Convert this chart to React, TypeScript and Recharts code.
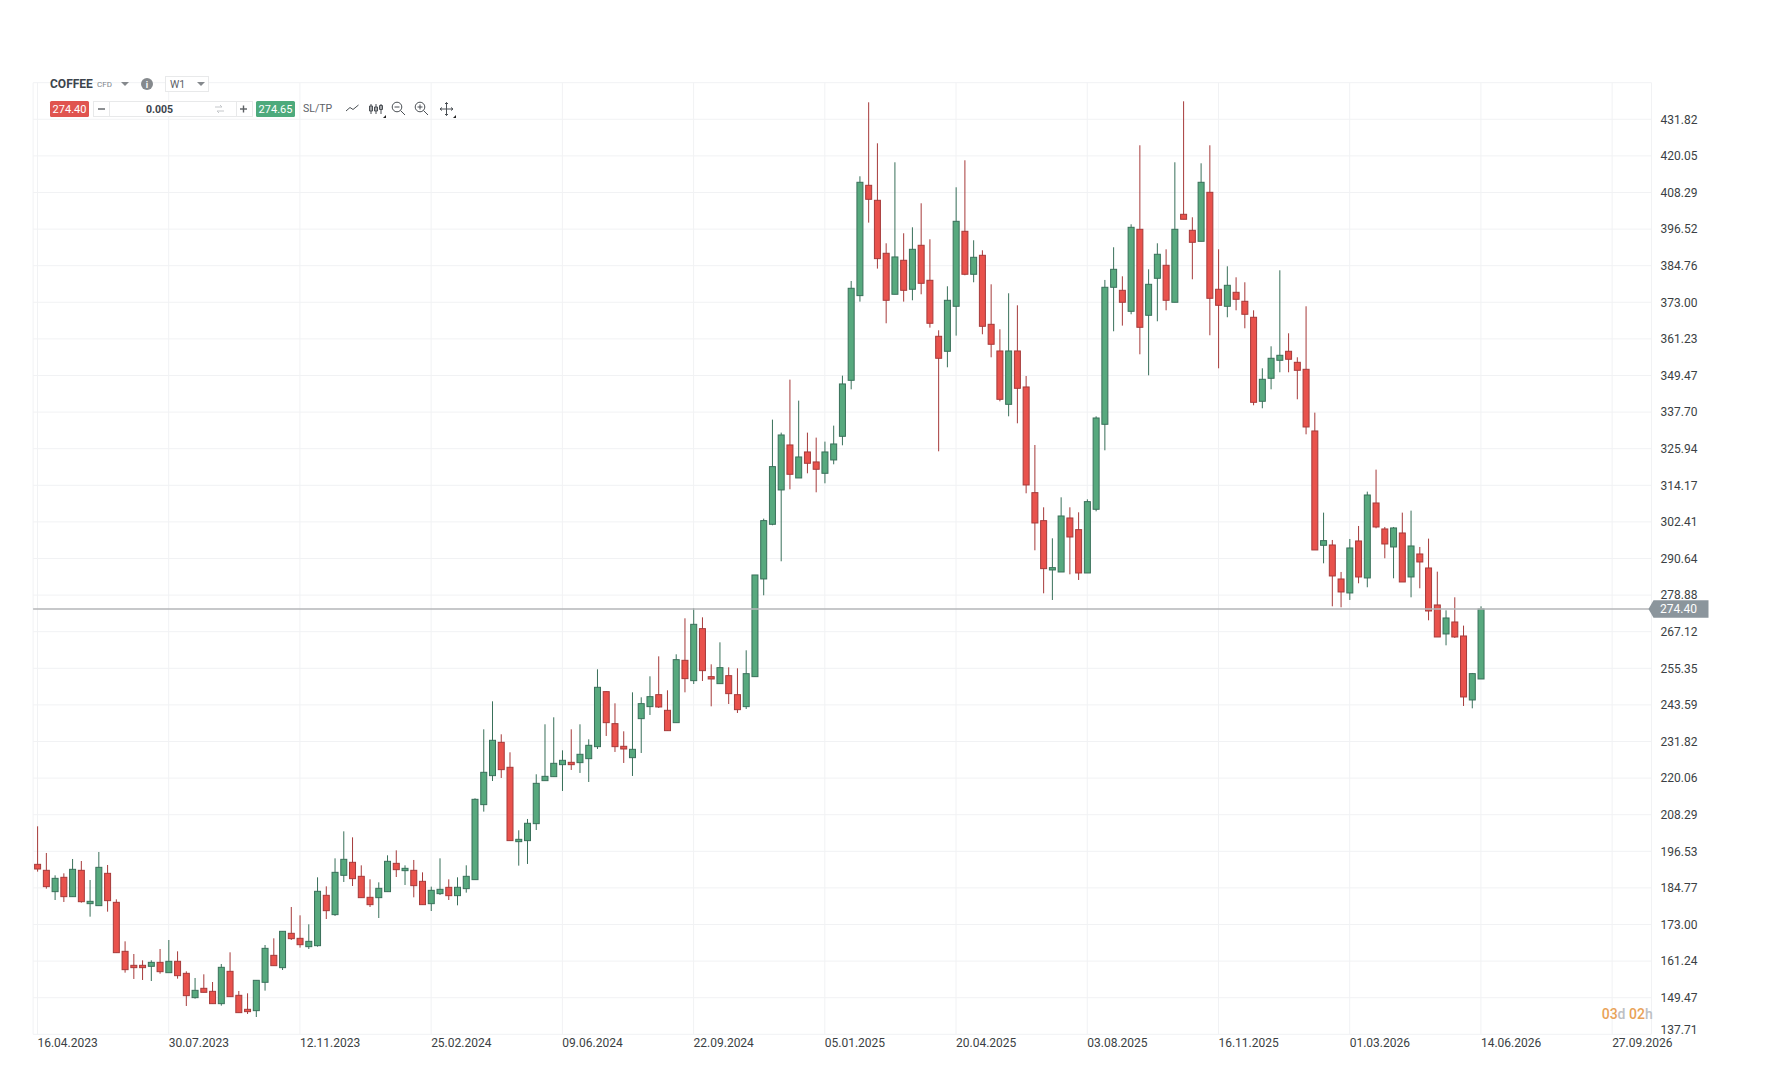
import { ComposedChart, Bar, XAxis, YAxis, CartesianGrid, ReferenceLine } from 'recharts';

// Weekly candles, oldest first
const opens = [
  192.34, 190.42, 183.56, 188.17, 181.95, 190.42, 179.70, 179.06, 189.45, 180.13,
  164.38, 159.88, 159.88, 159.56, 160.84, 157.52, 161.17, 157.31, 149.49, 152.49,
  151.52, 147.56, 157.95, 150.24, 145.74, 145.31, 154.42, 163.09, 159.13, 170.17,
  168.56, 165.88, 166.20, 182.38, 176.17, 188.81, 192.99, 188.49, 181.74, 181.63,
  183.56, 192.66, 190.31, 190.42, 186.88, 179.70, 182.92, 184.95, 182.28, 184.53,
  187.42, 211.53, 220.85, 231.56, 223.53, 199.63, 199.96, 205.42, 219.24, 220.53,
  224.38, 225.13, 225.03, 226.31, 230.17, 247.85, 237.56, 230.28, 226.63, 239.17,
  243.03, 246.88, 241.85, 237.88, 257.92, 251.38, 268.10, 252.67, 250.42, 252.99,
  246.88, 243.03, 252.67, 284.07, 301.64, 312.68, 327.14, 316.53, 324.89, 321.68,
  318.03, 322.32, 329.92, 347.92, 375.14, 410.60, 405.78, 388.75, 375.57, 386.50,
  377.18, 391.32, 380.07, 362.07, 357.25, 371.71, 395.82, 382.00, 388.10, 365.92,
  357.35, 340.20, 357.35, 345.78, 311.81, 302.81, 286.96, 286.31, 303.67, 299.92,
  285.99, 306.46, 333.78, 377.82, 376.85, 370.10, 396.46, 368.82, 380.71, 384.89,
  373.00, 401.28, 396.14, 392.60, 408.35, 377.18, 371.71, 376.21, 373.32, 368.18,
  341.18, 348.57, 354.35, 357.25, 353.71, 351.46, 331.64, 294.89, 294.99, 284.06,
  279.57, 296.28, 284.39, 308.49, 300.14, 294.35, 298.85, 284.71, 292.10, 287.60,
  275.71, 266.39, 270.24, 265.74, 245.17, 251.92,
];

const closes = [
  190.84, 185.17, 187.84, 181.95, 190.74, 180.34, 180.45, 191.38, 180.67, 163.95,
  158.49, 159.13, 159.13, 160.84, 157.84, 161.17, 156.56, 150.13, 151.84, 151.20,
  147.56, 159.24, 149.81, 144.67, 144.99, 155.06, 165.34, 159.77, 170.81, 168.45,
  166.52, 167.59, 183.67, 177.45, 189.77, 193.95, 187.74, 181.63, 179.38, 184.63,
  193.31, 190.63, 191.06, 185.49, 179.38, 183.99, 184.31, 182.27, 184.96, 188.49,
  213.24, 221.92, 232.21, 222.78, 199.96, 200.38, 205.53, 218.38, 220.63, 224.81,
  225.78, 224.38, 227.71, 230.60, 249.24, 237.88, 230.17, 229.42, 229.31, 243.99,
  246.24, 242.92, 235.31, 258.13, 252.03, 269.49, 254.60, 251.92, 255.56, 247.21,
  242.06, 253.63, 285.35, 302.82, 320.18, 330.35, 317.71, 323.28, 321.25, 319.32,
  324.89, 327.46, 346.75, 377.50, 411.57, 406.10, 387.03, 373.64, 387.57, 376.85,
  390.03, 379.10, 366.25, 355.00, 373.64, 399.03, 382.00, 387.46, 365.28, 359.50,
  341.81, 357.35, 345.35, 314.28, 302.06, 287.38, 287.71, 304.31, 297.56, 285.99,
  308.92, 335.81, 377.82, 383.60, 373.00, 397.10, 364.96, 378.78, 388.43, 373.64,
  396.46, 399.68, 392.28, 411.57, 374.28, 372.03, 378.46, 373.96, 369.14, 340.85,
  348.25, 355.00, 355.96, 354.68, 351.14, 332.92, 293.39, 296.39, 285.03, 279.89,
  294.03, 284.71, 311.06, 300.78, 295.31, 300.46, 283.10, 294.67, 289.53, 273.78,
  265.42, 271.53, 265.42, 246.14, 253.64, 274.40,
];

const highs = [
  204.56, 195.99, 188.81, 189.45, 194.06, 193.41, 187.31, 196.31, 192.13, 181.09,
  167.59, 163.52, 161.49, 161.49, 165.13, 168.02, 164.38, 157.95, 155.81, 156.99,
  154.52, 160.31, 164.06, 151.63, 150.88, 155.06, 166.41, 168.56, 170.81, 178.63,
  175.95, 173.06, 188.17, 185.27, 194.27, 202.95, 201.02, 192.02, 187.52, 186.56,
  195.24, 196.84, 192.02, 193.74, 189.77, 185.17, 194.27, 187.52, 188.17, 192.03,
  213.56, 235.74, 244.74, 234.13, 228.35, 203.28, 206.92, 221.28, 237.35, 239.60,
  228.99, 235.74, 237.35, 232.53, 255.03, 247.96, 244.10, 235.10, 247.63, 246.03,
  252.78, 259.20, 248.28, 259.85, 271.42, 274.63, 271.74, 256.63, 263.70, 255.67,
  255.35, 261.13, 285.35, 303.46, 335.28, 331.10, 348.14, 341.39, 331.10, 329.50,
  328.21, 333.35, 349.42, 379.85, 413.50, 437.28, 424.10, 391.96, 418.00, 395.18,
  397.10, 404.82, 393.25, 364.00, 378.14, 409.96, 418.64, 392.93, 389.71, 378.78,
  364.32, 375.89, 372.03, 349.31, 327.13, 307.10, 297.13, 310.31, 307.10, 305.49,
  309.67, 336.35, 380.18, 390.68, 381.35, 398.07, 423.46, 383.60, 391.96, 390.03,
  418.00, 437.60, 400.32, 417.67, 423.46, 390.03, 384.57, 381.03, 379.43, 370.42,
  351.78, 358.85, 383.28, 363.03, 355.32, 371.71, 337.53, 305.39, 296.60, 286.32,
  296.92, 301.10, 312.14, 319.21, 300.78, 300.78, 305.39, 306.03, 294.35, 297.03,
  286.42, 273.99, 278.17, 269.07, 253.85, 275.28,
];

const lows = [
  189.99, 184.52, 180.88, 180.24, 181.95, 180.02, 175.52, 179.06, 177.13, 163.95,
  157.52, 155.49, 155.17, 154.84, 157.20, 157.52, 155.59, 146.81, 149.17, 151.20,
  147.56, 146.92, 149.81, 144.67, 144.24, 143.27, 151.74, 159.77, 158.38, 168.02,
  165.56, 165.13, 165.88, 174.77, 175.74, 186.67, 185.38, 181.63, 178.63, 175.09,
  183.56, 188.27, 185.70, 181.74, 179.38, 177.34, 182.49, 180.88, 179.17, 183.24,
  187.42, 209.28, 219.13, 220.10, 199.96, 191.92, 192.46, 203.38, 219.24, 220.53,
  215.92, 222.67, 221.71, 218.81, 229.42, 233.60, 228.46, 224.92, 220.74, 228.13,
  240.35, 242.60, 235.31, 237.88, 247.63, 250.31, 251.28, 243.13, 250.42, 243.88,
  240.99, 242.28, 252.67, 278.82, 301.32, 289.75, 312.89, 316.53, 318.03, 311.92,
  314.82, 320.92, 327.03, 345.03, 373.21, 398.60, 383.82, 366.25, 375.57, 373.21,
  373.64, 375.57, 364.85, 325.10, 352.10, 362.28, 381.68, 379.43, 362.71, 355.32,
  341.17, 336.35, 334.10, 311.60, 293.28, 279.46, 277.31, 286.31, 285.56, 283.74,
  285.99, 305.81, 325.42, 363.68, 365.50, 369.14, 356.28, 349.53, 366.89, 370.42,
  373.00, 399.68, 380.39, 392.60, 362.39, 351.78, 368.18, 370.42, 364.64, 339.89,
  338.93, 345.03, 350.50, 350.50, 341.82, 330.56, 293.39, 289.10, 275.28, 274.96,
  277.32, 282.67, 281.39, 300.35, 290.71, 284.28, 283.10, 278.17, 281.07, 270.78,
  265.42, 262.74, 265.10, 243.24, 242.49, 251.92,
];

const priceTicks = [
  137.71, 149.47, 161.24, 173.0, 184.77, 196.53, 208.29, 220.06, 231.82, 243.59, 255.35, 267.12, 278.88,
  290.64, 302.41, 314.17, 325.94, 337.7, 349.47, 361.23, 373.0, 384.76, 396.52, 408.29, 420.05, 431.82,
];
const dateLabels = [
  '16.04.2023', '30.07.2023', '12.11.2023', '25.02.2024', '09.06.2024', '22.09.2024', '05.01.2025',
  '20.04.2025', '03.08.2025', '16.11.2025', '01.03.2026', '14.06.2026', '27.09.2026',
];
const lastBid = 274.4;
const lastAsk = 274.65;

const WEEKS_SHOWN = 185;
const WEEKS_PER_LABEL = 15;

// empty weeks after the last candle keep the right side of the chart free
const chartData = Array.from({ length: WEEKS_SHOWN }, (_, week) =>
  week < opens.length
    ? { week, open: opens[week], close: closes[week], high: highs[week], low: lows[week], range: [lows[week], highs[week]] }
    : { week },
);
const dateTicks = dateLabels.map((_, i) => i * WEEKS_PER_LABEL);

const GREEN = '#57a97e';
const GREEN_DARK = '#39705a';
const RED = '#e9524c';
const RED_DARK = '#a63a3a';
const FONT = 'Roboto, sans-serif';

// Bar hands us the pixel box of low..high, the body is placed inside it
function Candle(props: any) {
  const { x, y, width, height, payload } = props;
  if (!payload || !payload.range) return null;
  const { open, close, high, low } = payload;
  const up = close >= open;
  const perUnit = height / (high - low);
  const bodyTop = y + (high - Math.max(open, close)) * perUnit;
  const bodyHeight = Math.max(Math.abs(open - close) * perUnit, 1);
  const mid = x + width / 2;
  return (
    <g>
      <line x1={mid} x2={mid} y1={y} y2={y + height} stroke={up ? GREEN_DARK : RED_DARK} strokeWidth={1} />
      <rect
        x={x + 0.5}
        y={bodyTop}
        width={width - 1}
        height={bodyHeight}
        fill={up ? GREEN : RED}
        stroke={up ? GREEN_DARK : RED_DARK}
        strokeWidth={1}
      />
    </g>
  );
}

function PriceTick({ x, y, payload, index }: any) {
  return (
    <text x={x} y={index === 0 ? y - 4.5 : y} dy="0.36em" fontSize={12} fontFamily={FONT} fill="#3b3f44" textAnchor="start">
      {payload.value.toFixed(2)}
    </text>
  );
}

function DateTick({ x, y, payload }: any) {
  return (
    <text x={x} y={y + 12.7} fontSize={12} fontFamily={FONT} fill="#3b3f44" textAnchor="start">
      {dateLabels[payload.value / WEEKS_PER_LABEL]}
    </text>
  );
}

function PriceTag({ viewBox }: any) {
  const y = viewBox.y;
  const right = viewBox.x + viewBox.width;
  const points = `${right - 3},${y} ${right + 2},${y - 8.7} ${right + 57},${y - 8.7} ${right + 57},${y + 8.7} ${right + 2},${y + 8.7}`;
  return (
    <g>
      <polygon points={points} fill="#8b959c" />
      <text x={right + 8.5} y={y + 4.3} fontSize={12} fontFamily={FONT} fill="#ffffff">
        {lastBid.toFixed(2)}
      </text>
    </g>
  );
}

function Toolbar() {
  const grey = '#5c6167';
  return (
    <svg width={470} height={130} style={{ position: 'absolute', left: 0, top: 0 }}>
      <g fontFamily={FONT}>
        <text x={50} y={88} fontSize={12} fontWeight={700} fill="#3c444c">COFFEE</text>
        <text x={97} y={87} fontSize={8} fill="#80868c">CFD</text>
        <polygon points="121,82 129,82 125,86" fill="#85898d" />
        <circle cx={147} cy={84} r={6} fill="#85898d" />
        <text x={147} y={87.5} fontSize={9} fontWeight={700} fill="#ffffff" textAnchor="middle">i</text>

        <rect x={165.5} y={76.5} width={43} height={15} fill="#ffffff" stroke="#e8e9ea" />
        <text x={170} y={88} fontSize={10.5} fill={grey}>W1</text>
        <polygon points="197,82 205,82 201,86" fill="#85898d" />

        <rect x={50} y={101} width={39} height={16} rx={1.5} fill="#e0544f" />
        <text x={69.5} y={113} fontSize={11} fill="#ffffff" textAnchor="middle">{lastBid.toFixed(2)}</text>

        <rect x={93.5} y={101.5} width={159} height={15} fill="#ffffff" stroke="#e8e9ea" />
        <line x1={109.5} x2={109.5} y1={102} y2={116} stroke="#e8e9ea" />
        <line x1={236.5} x2={236.5} y1={102} y2={116} stroke="#e8e9ea" />
        <line x1={98} x2={105} y1={109} y2={109} stroke="#5b5f63" strokeWidth={1.4} />
        <line x1={240} x2={247} y1={109} y2={109} stroke="#5b5f63" strokeWidth={1.4} />
        <line x1={243.5} x2={243.5} y1={105.5} y2={112.5} stroke="#5b5f63" strokeWidth={1.4} />
        <text x={159.5} y={113} fontSize={10.5} fontWeight={700} fill="#3c444c" textAnchor="middle">0.005</text>
        <path d="M215 107 h7 l-2 -2 M224 111 h-7 l2 2" fill="none" stroke="#c4c7ca" strokeWidth={1} />

        <rect x={256} y={101} width={39} height={16} rx={1.5} fill="#4daa7c" />
        <text x={275.5} y={113} fontSize={11} fill="#ffffff" textAnchor="middle">{lastAsk.toFixed(2)}</text>
        <text x={303} y={112} fontSize={10.5} fill={grey}>SL/TP</text>

        <g fill="none" stroke="#4a4f54" strokeWidth={1}>
          <path d="M346 111 L350 107.5 L353 109.5 L358.5 105" />
          <path d="M371 104 V114 M369.5 106 h3 v5 h-3 z M376 104 V114 M374.5 107 h3 v4 h-3 z M381 104 V114 M379.5 105.5 h3 v4 h-3 z" />
          <circle cx={397} cy={107} r={4.8} />
          <path d="M400.5 110.5 L405 115 M394.5 107 h5" />
          <circle cx={420} cy={107} r={4.8} />
          <path d="M423.5 110.5 L428 115 M417.5 107 h5 M420 104.5 v5" />
          <path d="M440 109 h13 M446.5 102.5 v13 M442 107.5 l-2 1.5 l2 1.5 M451 107.5 l2 1.5 l-2 1.5 M445 104 l1.5 -1.5 l1.5 1.5 M445 114 l1.5 1.5 l1.5 -1.5" />
        </g>
        <polygon points="386,115 383,118 386,118" fill="#222222" />
        <polygon points="456,115 453,118 456,118" fill="#222222" />
      </g>
    </svg>
  );
}

export default function App() {
  return (
    <div style={{ position: 'absolute', left: 0, top: 0, width: 1774, height: 1092, background: '#ffffff', overflow: 'hidden' }}>
      <ComposedChart
        width={1774}
        height={1092}
        data={chartData}
        margin={{ top: 82.7, right: 62.5, left: 33.1, bottom: 27.7 }}
      >
        <CartesianGrid stroke="#f1f2f4" strokeWidth={1} />
        <XAxis
          dataKey="week"
          type="category"
          ticks={dateTicks}
          interval={0}
          height={30}
          tick={<DateTick />}
          tickLine={false}
          axisLine={false}
          tickSize={0}
          tickMargin={0}
        />
        <YAxis
          orientation="right"
          type="number"
          domain={[137.71, 443.58]}
          ticks={priceTicks}
          interval={0}
          width={60}
          tick={<PriceTick />}
          tickLine={false}
          axisLine={false}
          tickSize={0}
          tickMargin={9}
          allowDataOverflow
        />
        <Bar dataKey="range" barSize={7} shape={<Candle />} isAnimationActive={false} />
        <ReferenceLine y={lastBid} stroke="#b4b6b8" strokeWidth={1.5} label={<PriceTag />} />
      </ComposedChart>
      <Toolbar />
      <div style={{ position: 'absolute', left: 1601.7, top: 1006, fontFamily: FONT, fontSize: 14, fontWeight: 500, color: '#bcc0c4', whiteSpace: 'pre' }}>
        <span style={{ color: '#e9a257' }}>03</span>d <span style={{ color: '#e9a257' }}>02</span>h
      </div>
    </div>
  );
}
